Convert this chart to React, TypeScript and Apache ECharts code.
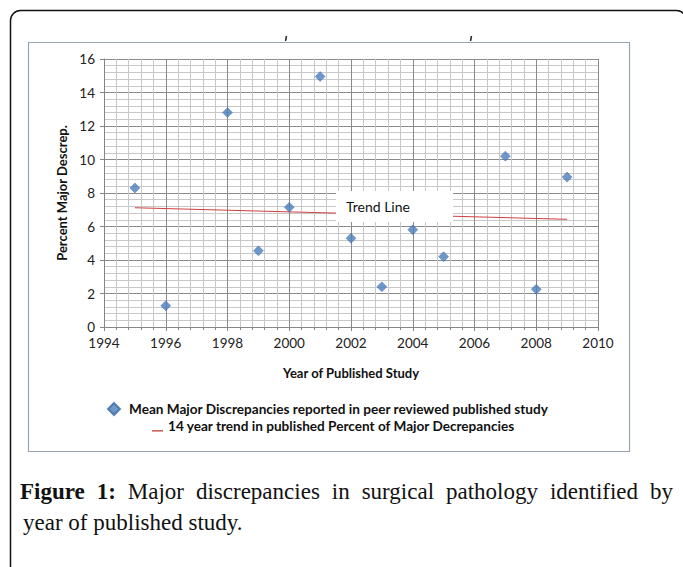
import React, { useEffect, useRef } from "react";
import * as echarts from "echarts";

const years = [1995, 1996, 1998, 1999, 2000, 2001, 2002, 2003, 2004, 2005, 2007, 2008, 2009];
const discrepancies = [8.3, 1.27, 12.8, 4.55, 7.15, 14.95, 5.3, 2.4, 5.8, 4.2, 10.2, 2.25, 8.95];
const trendYears = [1995, 2009];
const trendValues = [7.12, 6.43];
const seriesNames = [
  "Mean Major Discrepancies reported in peer reviewed published study",
  "14 year trend in published Percent of Major Decrepancies",
];
const xAxisTitle = "Year of Published Study";
const yAxisTitle = "Percent Major Descrep.";
const captionLine1 = ["Figure", "1:", "Major", "discrepancies", "in", "surgical", "pathology", "identified", "by"];
const captionLine2 = "year of published study.";

export default function App() {
  const ref = useRef<HTMLDivElement>(null);
  useEffect(() => {
    if (!ref.current) return;
    const chart = echarts.init(ref.current, undefined, { renderer: "svg" });
    const font = "Lato, 'Noto Sans', sans-serif";
    const serif = "'Liberation Serif', 'DejaVu Serif', serif";
    const capSize = 23;
    const fontFor = (i: number) => `${i < 2 ? "bold " : ""}${capSize}px ${serif}`;
    // justified layout of caption line 1 between x=20 and x=673
    const ctx = document.createElement("canvas").getContext("2d") as CanvasRenderingContext2D;
    const widths = captionLine1.map((w, i) => {
      ctx.font = fontFor(i);
      return ctx.measureText(w).width;
    });
    const total = widths.reduce((a, b) => a + b, 0);
    const gap = (673 - 20 - total) / (captionLine1.length - 1);
    let cx = 20;
    const captionEls: any[] = captionLine1.map((w, i) => {
      const el = {
        type: "text",
        x: cx,
        y: 491,
        z: 100,
        style: { text: w, font: fontFor(i), fill: "#111", verticalAlign: "middle" },
      };
      cx += widths[i] + gap;
      return el;
    });
    chart.setOption({
      animation: false,
      backgroundColor: "#fff",
      grid: { left: 104, right: 85, top: 59, bottom: 240, containLabel: false },
      xAxis: {
        type: "value",
        min: 1994,
        max: 2010,
        interval: 2,
        name: xAxisTitle,
        nameLocation: "middle",
        nameGap: 39,
        nameTextStyle: { fontFamily: font, fontWeight: "bold", fontSize: 13, color: "#111" },
        axisLine: { show: true, onZero: false, lineStyle: { color: "#868686", width: 1 } },
        axisTick: { show: true, length: 4, lineStyle: { color: "#868686" } },
        minorTick: { show: true, splitNumber: 5, length: 3, lineStyle: { color: "#868686" } },
        axisLabel: { fontFamily: font, fontSize: 13.5, color: "#222", margin: 9, formatter: (v: number) => String(v) },
        splitLine: { show: true, lineStyle: { color: "#8a8a8a", width: 1 } },
        minorSplitLine: { show: true, lineStyle: { color: "#c8c8c8", width: 1 } },
      },
      yAxis: {
        type: "value",
        min: 0,
        max: 16,
        interval: 2,
        name: yAxisTitle,
        nameLocation: "middle",
        nameRotate: 90,
        nameGap: 34,
        nameTextStyle: { fontFamily: font, fontWeight: "bold", fontSize: 13, color: "#111" },
        axisLine: { show: true, lineStyle: { color: "#868686", width: 1 } },
        axisTick: { show: true, length: 4, lineStyle: { color: "#868686" } },
        minorTick: { show: false },
        axisLabel: { fontFamily: font, fontSize: 13.5, color: "#222", margin: 9 },
        splitLine: { show: true, lineStyle: { color: "#8a8a8a", width: 1 } },
        minorSplitLine: { show: true, lineStyle: { color: "#c8c8c8", width: 1 } },
      },
      legend: [
        {
          data: [{ name: seriesNames[0], icon: "diamond" }],
          left: 107,
          top: 402,
          padding: 0,
          itemWidth: 12,
          itemHeight: 12,
          textStyle: { fontFamily: font, fontWeight: "bold", fontSize: 13.6, color: "#111", padding: [0, 0, 0, 4] },
          selectedMode: false,
        },
        {
          data: [
            {
              name: seriesNames[1],
              icon: "path://M0,0 L0.01,0 L0.01,0.01 Z M0,10.5 L12,10.5 L12,12 L0,12 Z",
            },
          ],
          left: 152,
          top: 419,
          padding: 0,
          itemWidth: 11,
          itemHeight: 12,
          textStyle: { fontFamily: font, fontWeight: "bold", fontSize: 13.6, color: "#111" },
          selectedMode: false,
        },
      ],
      series: [
        {
          name: seriesNames[0],
          type: "scatter",
          symbol: "diamond",
          symbolSize: 10,
          itemStyle: { color: "#4a7ebb", borderColor: "#3d6aa3", borderWidth: 0.5 },
          data: years.map((y, i) => [y, discrepancies[i]]),
          z: 3,
        },
        {
          name: seriesNames[1],
          type: "line",
          showSymbol: false,
          symbol: "none",
          lineStyle: { color: "#d04040", width: 1 },
          itemStyle: { color: "#c0392b" },
          data: trendYears.map((y, i) => [y, trendValues[i]]),
          z: 2,
        },
      ],
      graphic: [
        {
          type: "rect",
          shape: { x: 10.5, y: 10.5, width: 676, height: 600, r: 10 },
          style: { fill: "none", stroke: "#111", lineWidth: 1.5 },
          z: 100,
        },
        {
          type: "rect",
          shape: { x: 28.5, y: 42.5, width: 601, height: 409 },
          style: { fill: "none", stroke: "#9aa3b0", lineWidth: 1.2 },
          z: 100,
        },
        {
          type: "line",
          shape: { x1: 286.5, y1: 36, x2: 285.5, y2: 41 },
          style: { stroke: "#222", lineWidth: 1.5 },
          z: 100,
        },
        {
          type: "line",
          shape: { x1: 471.5, y1: 36, x2: 470.5, y2: 41 },
          style: { stroke: "#222", lineWidth: 1.5 },
          z: 100,
        },
        {
          type: "rect",
          shape: { x: 336, y: 191, width: 117, height: 31 },
          style: { fill: "#fff" },
          z: 100,
        },
        {
          type: "text",
          x: 346,
          y: 206,
          z: 101,
          style: { text: "Trend Line", font: `14px ${font}`, fill: "#111", verticalAlign: "middle" },
        },
        ...captionEls,
        {
          type: "text",
          x: 23,
          y: 522,
          z: 100,
          style: { text: captionLine2, font: `${capSize}px ${serif}`, fill: "#111", verticalAlign: "middle" },
        },
      ],
    });
    return () => chart.dispose();
  }, []);
  return (
    <div
      ref={ref}
      style={{ position: "fixed", left: 0, top: 0, width: 683, height: 567, background: "#fff" }}
    />
  );
}
